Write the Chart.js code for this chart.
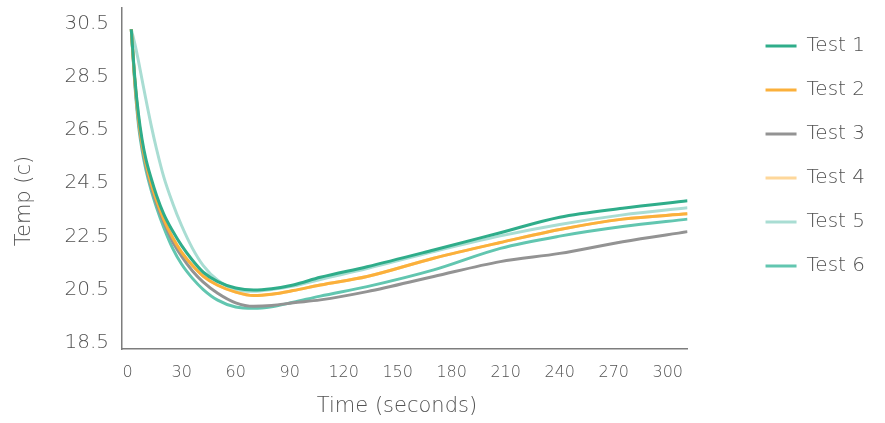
<!DOCTYPE html>
<html>
<head>
<meta charset="utf-8">
<script src="https://cdn.jsdelivr.net/npm/chart.js@4.4.1/dist/chart.umd.min.js"></script>
<style>
  html, body { margin: 0; padding: 0; background: #ffffff; }
  #wrap { width: 885px; height: 423px; }
</style>
</head>
<body>
<div id="wrap"><canvas id="chart" width="885" height="423"></canvas></div>
<script>
// Sample times (seconds)
const times = [2, 4, 6, 8, 10, 13, 16, 20, 25, 30, 36, 42, 50, 60, 70, 80, 92, 107, 133, 170, 207, 240, 275, 311];

// Temperature readings (°C) per test
const test1 = [30.3, 28.45, 27.1, 26.15, 25.45, 24.7, 24.05, 23.35, 22.7, 22.15, 21.6, 21.15, 20.8, 20.56, 20.48, 20.53, 20.67, 20.96, 21.36, 21.99, 22.64, 23.22, 23.56, 23.84];
const test2 = [30.3, 28.35, 26.95, 26.0, 25.3, 24.5, 23.87, 23.15, 22.45, 21.9, 21.4, 21.0, 20.66, 20.4, 20.27, 20.32, 20.46, 20.67, 20.99, 21.68, 22.27, 22.76, 23.15, 23.35];
const test3 = [30.3, 28.3, 26.85, 25.9, 25.2, 24.4, 23.75, 23.05, 22.3, 21.75, 21.2, 20.78, 20.36, 20.0, 19.87, 19.9, 20.0, 20.11, 20.42, 20.99, 21.55, 21.86, 22.3, 22.68];
const test4 = [30.3, 28.35, 26.95, 26.0, 25.3, 24.5, 23.87, 23.15, 22.45, 21.9, 21.4, 21.0, 20.66, 20.4, 20.27, 20.32, 20.46, 20.67, 20.99, 21.68, 22.27, 22.76, 23.15, 23.35];
const test5 = [30.3, 29.75, 29.1, 28.4, 27.7, 26.7, 25.8, 24.75, 23.75, 22.9, 22.05, 21.4, 20.85, 20.5, 20.43, 20.5, 20.63, 20.88, 21.29, 21.93, 22.52, 22.95, 23.31, 23.58];
const test6 = [30.3, 28.2, 26.7, 25.75, 25.05, 24.25, 23.6, 22.85, 22.05, 21.45, 20.92, 20.5, 20.1, 19.84, 19.79, 19.85, 20.02, 20.25, 20.61, 21.24, 22.05, 22.51, 22.87, 23.15];

const seriesNames = ['Test 1', 'Test 2', 'Test 3', 'Test 4', 'Test 5', 'Test 6'];
const seriesValues = [test1, test2, test3, test4, test5, test6];
const seriesColors = ['#2fad8a', '#fbb03b', '#939393', '#fed79a', '#a9ddd3', '#62c6b0'];

// Axis ticks
const xTicks = [0, 30, 60, 90, 120, 150, 180, 210, 240, 270, 300];
const yTicks = [18.5, 20.5, 22.5, 24.5, 26.5, 28.5, 30.5];

const FONT = 'DejaVu Sans';
const TEXT = '#525252';
const AXIS = '#7d7d7d';

const datasets = seriesNames.map((name, i) => ({
  label: name,
  data: times.map((t, j) => ({ x: t, y: seriesValues[i][j] })),
  borderColor: seriesColors[i],
  backgroundColor: seriesColors[i],
  borderWidth: 3,
  pointRadius: 0,
  pointHoverRadius: 0,
  fill: false,
  cubicInterpolationMode: 'monotone'
}));

// Axis titles drawn at fixed spots beside the plot
const axisTitles = {
  id: 'axisTitles',
  afterDraw(chart) {
    const ctx = chart.ctx;
    ctx.save();
    ctx.fillStyle = TEXT;
    ctx.font = `200 21px '${FONT}'`;
    ctx.textAlign = 'center';
    ctx.textBaseline = 'middle';
    ctx.fillText('Time (seconds)', 397, 407);
    ctx.translate(25, 201);
    ctx.rotate(-Math.PI / 2);
    ctx.fillText('Temp (c)', 0, 0);
    ctx.restore();
  }
};

// keep the plot box fixed: scales ask for no extra edge padding
const noEdgePadding = (s) => {
  s.paddingTop = 0; s.paddingBottom = 0; s.paddingLeft = 0; s.paddingRight = 0;
};

new Chart(document.getElementById('chart'), {
  type: 'line',
  data: { datasets },
  plugins: [axisTitles],
  options: {
    responsive: false,
    animation: false,
    events: [],
    layout: { padding: { left: 0, right: 10, top: 8, bottom: 0 } },
    plugins: {
      tooltip: { enabled: false },
      legend: {
        position: 'right',
        align: 'start',
        title: { display: true, text: '', padding: 0, font: { size: 4, lineHeight: 1 } },
        labels: {
          boxWidth: 31,
          boxHeight: 3,
          padding: 24,
          color: TEXT,
          font: { family: FONT, size: 20, weight: '200' },
          generateLabels: (chart) =>
            Chart.defaults.plugins.legend.labels.generateLabels(chart).map(l => ({ ...l, lineWidth: 0 }))
        }
      }
    },
    scales: {
      x: {
        type: 'linear',
        min: -3.15,
        max: 311,
        grid: { display: false, drawTicks: false },
        border: { display: true, color: AXIS, width: 1.5 },
        afterBuildTicks: (s) => { s.ticks = xTicks.map(v => ({ value: v })); },
        afterFit: (s) => { s.height = 74; noEdgePadding(s); },
        ticks: {
          color: TEXT,
          padding: 14,
          maxRotation: 0,
          autoSkip: false,
          font: { family: FONT, size: 16, weight: '200' }
        }
      },
      y: {
        type: 'linear',
        min: 18.26,
        max: 31.1,
        grid: { display: false, drawTicks: false },
        border: { display: true, color: AXIS, width: 1.5 },
        afterBuildTicks: (s) => { s.ticks = yTicks.map(v => ({ value: v })); },
        afterFit: (s) => { s.width = 122; noEdgePadding(s); },
        ticks: {
          color: TEXT,
          padding: 13,
          autoSkip: false,
          font: { family: FONT, size: 20, weight: '200' },
          callback: (v) => v.toFixed(1)
        }
      },
      gap: {
        type: 'linear',
        position: 'right',
        display: true,
        grid: { display: false, drawTicks: false },
        border: { display: false },
        ticks: { display: false },
        afterFit: (s) => { s.width = 54; noEdgePadding(s); }
      }
    }
  }
});
</script>
</body>
</html>
